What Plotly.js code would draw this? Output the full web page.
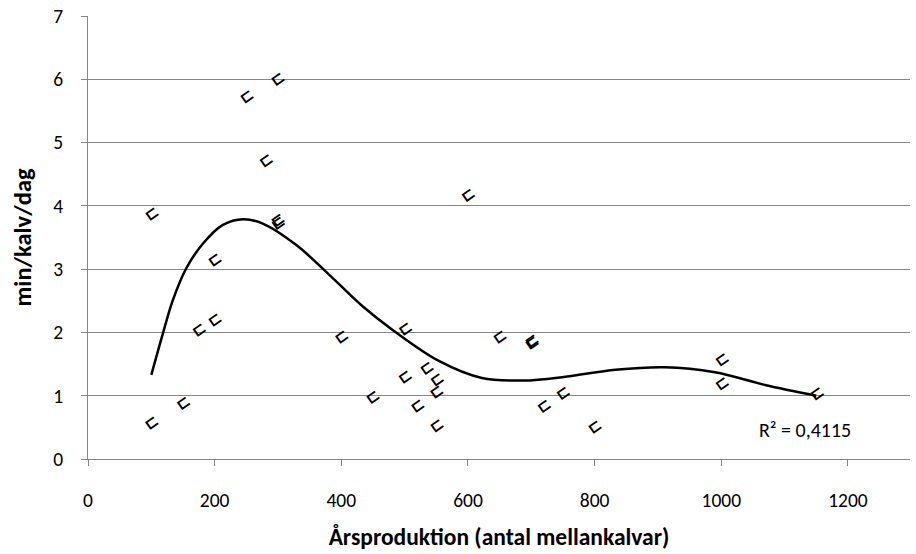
<!DOCTYPE html>
<html>
<head>
<meta charset="utf-8">
<script src="https://cdn.plot.ly/plotly-3.0.1.min.js"></script>
<style>html,body{margin:0;padding:0;background:#fff;}#chart{width:916px;height:554px;}</style>
</head>
<body>
<div id="chart"></div>
<script>
// Observed points (Årsproduktion, min/kalv/dag)
var pointsX = [100,100,150,175,200,200,250,280,300,300,300,400,450,500,500,520,535,550,550,550,600,650,700,700,720,750,800,1000,1000,1150];
var pointsY = [3.88,0.57,0.90,2.05,3.15,2.20,5.73,4.72,6.01,3.78,3.74,1.93,0.98,2.07,1.31,0.84,1.44,1.26,1.06,0.53,4.18,1.93,1.87,1.84,0.85,1.05,0.51,1.58,1.20,1.04];
// Trendline
var trendX = [100,119,134,155,182,213,245,276,329,381,434,481,554,622,688,754,833,911,990,1069,1150];
var trendY = [1.33,2.01,2.51,3.01,3.41,3.70,3.79,3.72,3.38,2.91,2.41,2.04,1.55,1.28,1.24,1.30,1.41,1.45,1.37,1.17,1.00];
var xTicks = [0,200,400,600,800,1000,1200];
var yTicks = [0,1,2,3,4,5,6,7];
var r2Label = "R² = 0,4115";
var xTitle = "Årsproduktion (antal mellankalvar)";
var yTitle = "min/kalv/dag";

var FONT = "Carlito, Lato, 'Open Sans', sans-serif";

var traces = [
  {x: pointsX, y: pointsY, type: 'scatter', mode: 'markers',
   marker: {size: 10, color: 'rgba(0,0,0,0)'}, hoverinfo: 'x+y', showlegend: false},
  {x: trendX, y: trendY, type: 'scatter', mode: 'lines',
   line: {color: '#000', width: 2.5, shape: 'spline', smoothing: 1}, hoverinfo: 'skip', showlegend: false}
];

var annotations = pointsX.map(function (xv, i) {
  return {x: xv, y: pointsY[i], xref: 'x', yref: 'y', text: '<b>⊏</b>', showarrow: false,
          textangle: -35, xanchor: 'center', yanchor: 'middle',
          font: {family: 'DejaVu Sans', size: 16, color: '#000'}};
});
annotations.push({xref: 'paper', yref: 'paper', x: 0.931, y: 0.065, xanchor: 'right', yanchor: 'middle',
  text: r2Label, showarrow: false, font: {family: FONT, size: 20, color: '#000'}});

var layout = {
  width: 916, height: 554,
  margin: {l: 88, r: 6, t: 16, b: 95},
  paper_bgcolor: '#fff', plot_bgcolor: '#fff',
  showlegend: false,
  font: {family: FONT, size: 19.5, color: '#000'},
  xaxis: {
    range: [0, 1298], tickvals: xTicks, ticktext: xTicks.map(String),
    showgrid: false, zeroline: false, showline: true, linecolor: '#868686', linewidth: 1,
    ticks: 'outside', ticklen: 6, tickcolor: '#868686', tickfont: {size: 19.5, family: FONT},
    ticklabelstandoff: 18,
    title: {text: '<b>' + xTitle + '</b>', font: {size: 23.5, family: FONT}, standoff: 17}
  },
  yaxis: {
    range: [0, 7], tickvals: yTicks, ticktext: yTicks.map(String),
    showgrid: true, gridcolor: '#868686', gridwidth: 1,
    zeroline: false, showline: true, linecolor: '#868686', linewidth: 1,
    ticks: 'outside', ticklen: 6, tickcolor: '#868686', tickfont: {size: 19.5, family: FONT},
    ticklabelstandoff: 14,
    title: {text: '<b>' + yTitle + '</b>', font: {size: 24.5, family: FONT}, standoff: 14}
  },
  annotations: annotations
};

Plotly.newPlot('chart', traces, layout, {displayModeBar: false, staticPlot: true});
</script>
</body>
</html>
